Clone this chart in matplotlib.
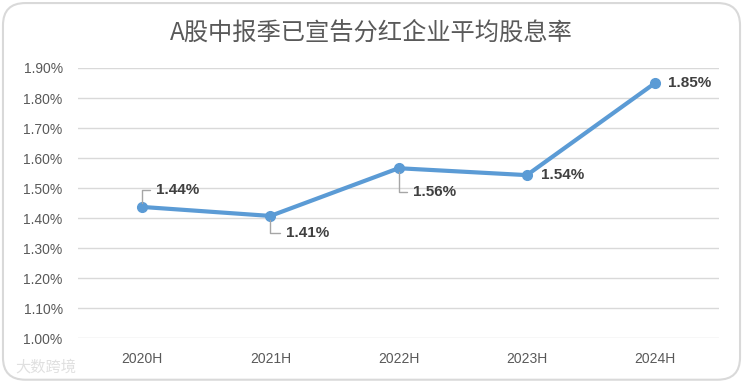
import matplotlib
matplotlib.use("Agg")
import matplotlib.pyplot as plt
from matplotlib.patches import FancyBboxPatch

plt.rcParams['font.family'] = ['Liberation Sans', 'Noto Sans CJK SC', 'DejaVu Sans']

periods = ["2020H", "2021H", "2022H", "2023H", "2024H"]
yield_pct = [1.437, 1.407, 1.566, 1.543, 1.850]
labels = ["1.44%", "1.41%", "1.56%", "1.54%", "1.85%"]
yticks = [1.00, 1.10, 1.20, 1.30, 1.40, 1.50, 1.60, 1.70, 1.80, 1.90]

# label offsets in points (dx, dy) and whether a leader line is drawn
offsets = [(10, 12, True), (11, -12, True), (10, -17, True), (10, 0, False), (9, 0, False)]

fig = plt.figure(figsize=(7.43, 3.82), dpi=100)
fig.patch.set_facecolor('white')
border = FancyBboxPatch((0.004, 0.006), 0.992, 0.986, boxstyle="round,pad=0,rounding_size=0.03",
                        transform=fig.transFigure, facecolor='none', edgecolor='#d9d9d9',
                        linewidth=1.5, mutation_aspect=743 / 382)
fig.patches.append(border)

ax = fig.add_axes([0.105, 0.115, 0.863, 0.707])
x = list(range(len(periods)))
ax.plot(x, yield_pct, color='#5b9bd5', linewidth=3, marker='o', markersize=7, zorder=3)

for i, (v, lab) in enumerate(zip(yield_pct, labels)):
    dx, dy, leader = offsets[i]
    if leader:
        ax.annotate(lab, (i, v), xytext=(dx, dy), textcoords='offset points',
                    fontsize=11, fontweight='bold', color='#404040', ha='left', va='center',
                    arrowprops=dict(arrowstyle='-', color='#a6a6a6', lw=1,
                                    connectionstyle='angle,angleA=0,angleB=90,rad=0',
                                    relpos=(0, 0.5), shrinkA=2, shrinkB=3))
    else:
        ax.annotate(lab, (i, v), xytext=(dx, dy), textcoords='offset points',
                    fontsize=11, fontweight='bold', color='#404040', ha='left', va='center')

ax.set_xlim(-0.5, len(periods) - 0.5)
ax.set_ylim(1.00, 1.90)
ax.set_yticks(yticks)
ax.set_yticklabels([f"{t:.2f}%" for t in yticks])
ax.set_xticks(x)
ax.set_xticklabels(periods)
ax.tick_params(axis='both', length=0, labelsize=10, colors='#595959')
ax.tick_params(axis='x', pad=10)
ax.tick_params(axis='y', pad=11)
ax.grid(axis='y', color='#d9d9d9', linewidth=1)
ax.set_axisbelow(True)
for s in ax.spines.values():
    s.set_visible(False)
ax.set_facecolor('none')

fig.text(0.5, 0.914, "A股中报季已宣告分红企业平均股息率", ha='center', va='center',
         fontsize=17.5, color='#595959', family=['Noto Sans CJK SC', 'DejaVu Sans'])

fig.text(0.02, 0.04, "大数跨境", ha='left', va='center', fontsize=11, color='#e0e0e0',
         family=['Noto Sans CJK SC', 'DejaVu Sans'])

fig.savefig("out.png", dpi=100)
